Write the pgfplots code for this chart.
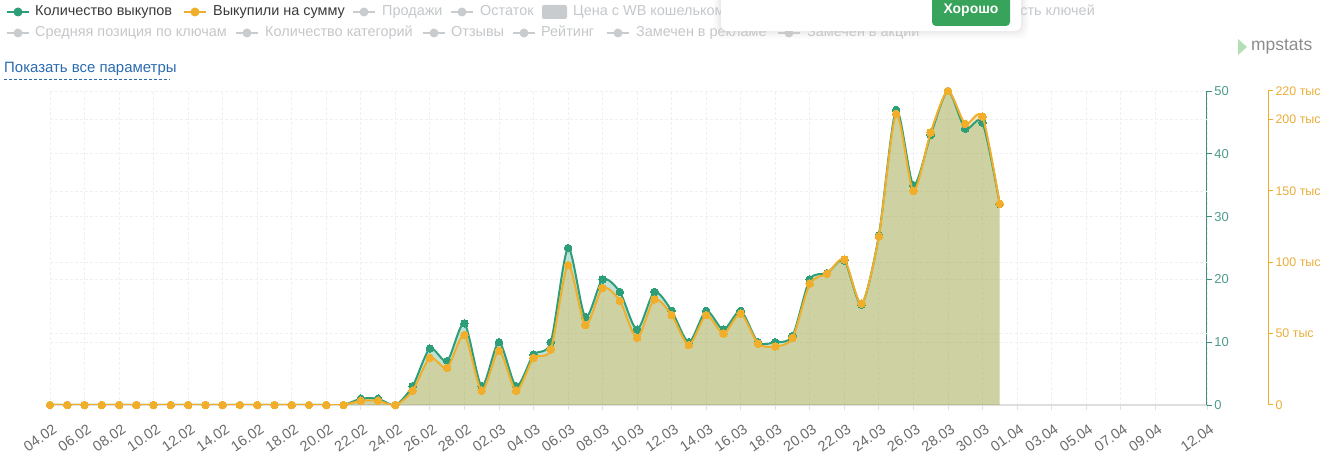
\documentclass[border=0pt]{standalone}
\usepackage{fontspec}
\setmainfont{Liberation Sans}
\usepackage{pgfplots}
\pgfplotsset{compat=1.18}
\usepackage{pgfplotstable}
\definecolor{tealc}{HTML}{2E9E78}
\definecolor{orangec}{HTML}{F0AE2A}
\definecolor{taxis}{HTML}{3F8F80}
\definecolor{tlab}{HTML}{4E9A8C}
\definecolor{olab}{HTML}{E9AE3A}
\definecolor{legg}{HTML}{C9CCCF}
\definecolor{legt}{HTML}{C4C7CA}
\definecolor{linkb}{HTML}{2A6BB0}
\definecolor{btng}{HTML}{37A35B}
\definecolor{darkt}{HTML}{3A3A3A}
\definecolor{xlab}{HTML}{6A6A6A}

\pgfplotstableread{
d v
0 0
1 0
2 0
3 0
4 0
5 0
6 0
7 0
8 0
9 0
10 0
11 0
12 0
13 0
14 0
15 0
16 0
17 0
18 1
19 1
20 0
21 3
22 9
23 7
24 13
25 3
26 10
27 3
28 8
29 10
30 25
31 14
32 20
33 18
34 12
35 18
36 15
37 10
38 15
39 12
40 15
41 10
42 10
43 11
44 20
45 21
46 23
47 16
48 27
49 47
50 35
51 43
52 50
53 44
54 45
55 32
}\cnt

\pgfplotstableread{
d k
0 0
1 0
2 0
3 0
4 0
5 0
6 0
7 0
8 0
9 0
10 0
11 0
12 0
13 0
14 0
15 0
16 0
17 0
18 3
19 3
20 0
21 10
22 33
23 26
24 49
25 10
26 38
27 10
28 33
29 39
30 98
31 56
32 82
33 73
34 47
35 74
36 63
37 42
38 63
39 50
40 64
41 43
42 41
43 47
44 85
45 92
46 102
47 71
48 118
49 204
50 150
51 191
52 220
53 197
54 202
55 141
}\sumt

\newcommand{\lfont}{\fontsize{14.5}{16}\selectfont}
% marker x, y, colour
\newcommand{\lmark}[3]{%
  \draw[#3, line width=2bp] (#1,#2) -- ++(22,0);
  \fill[#3] (#1+11,#2) circle (4.5);%
}

\begin{document}
\begin{tikzpicture}
\useasboundingbox (0,0) rectangle (1327bp,470bp);
\begin{axis}[
  at={(50bp,65bp)}, anchor=south west,
  scale only axis, width=1157bp, height=314bp,
  xmin=0, xmax=67, ymin=0, ymax=50,
  axis y line*=right, axis x line*=bottom,
  clip mode=individual,
  /pgf/number format/assume math mode=true,
  xtick={0,2,...,64,67},
  xticklabels={04.02,06.02,08.02,10.02,12.02,14.02,16.02,18.02,20.02,22.02,24.02,26.02,28.02,02.03,04.03,06.03,08.03,10.03,12.03,14.03,16.03,18.03,20.03,22.03,24.03,26.03,28.03,30.03,01.04,03.04,05.04,07.04,09.04,12.04},
  xticklabel style={rotate=35, anchor=north east, text=xlab, font=\fontsize{14.5}{16}\selectfont, inner sep=0bp, xshift=-5.8bp, yshift=-11.8bp},
  ytick={0,10,...,50},
  yticklabel style={text=tlab, font=\fontsize{13}{15}\selectfont, xshift=-1bp},
  extra y ticks={11.3636,22.7273,34.0909,45.4545},
  extra y tick labels={},
  extra y tick style={major tick length=0pt, grid=major},
  grid=major,
  major grid style={color=black!6, dash pattern=on 3bp off 2bp, line width=0.8bp},
  x axis line style={color=black!13, line width=1.6bp, -},
  y axis line style={color=taxis, line width=1bp, -},
  x tick style={color=black!12, line width=0.8bp},
  y tick style={color=taxis, line width=1bp},
  major tick length=5bp,
  tick align=outside,
]
\addplot[draw=none, fill=tealc, fill opacity=0.3, smooth, tension=0.45] table[x=d,y=v]{\cnt} \closedcycle;
\addplot[draw=none, fill=orangec, fill opacity=0.3, smooth, tension=0.45] table[x=d,y expr=\thisrow{k}/4.4]{\sumt} \closedcycle;
\addplot[tealc, line width=2bp, smooth, tension=0.45, mark=*, mark size=3.8bp, mark options={fill=tealc, draw=tealc, line width=0pt}] table[x=d,y=v]{\cnt};
\addplot[orangec, line width=2bp, smooth, tension=0.45, mark=*, mark size=3.8bp, mark options={fill=orangec, draw=orangec, line width=0pt}] table[x=d,y expr=\thisrow{k}/4.4]{\sumt};
\end{axis}

\begin{axis}[
  at={(50bp,65bp)}, anchor=south west,
  scale only axis, width=1218bp, height=314bp,
  xmin=0, xmax=70.53, ymin=0, ymax=220,
  hide x axis,
  axis y line*=right,
  /pgf/number format/assume math mode=true,
  ytick={0,50,100,150,200,220},
  yticklabels={0,50 тыс,100 тыс,150 тыс,200 тыс,220 тыс},
  yticklabel style={text=olab, font=\fontsize{12.5}{15}\selectfont, xshift=-1bp},
  y axis line style={color=orangec, line width=1bp, -},
  y tick style={color=orangec, line width=1bp},
  major tick length=5bp,
  tick align=outside,
]
\addplot[draw=none] coordinates {(0,0)};
\end{axis}

\begin{scope}[x=1bp, y=-1bp, shift={(0,470bp)}]
  % legend row 1
  \lmark{7}{12}{tealc}
  \node[anchor=west, inner sep=0pt, text=darkt, font=\lfont] at (35,12) {\strut Количество выкупов};
  \lmark{184}{12}{orangec}
  \node[anchor=west, inner sep=0pt, text=darkt, font=\lfont] at (213,12) {\strut Выкупили на сумму};
  \lmark{353}{12}{legg}
  \node[anchor=west, inner sep=0pt, text=legt, font=\lfont] at (382,12) {\strut Продажи};
  \lmark{451}{12}{legg}
  \node[anchor=west, inner sep=0pt, text=legt, font=\lfont] at (480,12) {\strut Остаток};
  \fill[legg, rounded corners=2] (542,5) rectangle (567,19);
  \node[anchor=west, inner sep=0pt, text=legt, font=\lfont] at (573,12) {\strut Цена с WB кошельком};
  \node[anchor=west, inner sep=0pt, text=legt, font=\lfont] at (968,12) {\strut Видимость ключей};
  % legend row 2
  \lmark{7}{33}{legg}
  \node[anchor=west, inner sep=0pt, text=legt, font=\lfont] at (35,33) {\strut Средняя позиция по ключам};
  \lmark{236}{33}{legg}
  \node[anchor=west, inner sep=0pt, text=legt, font=\lfont] at (265,33) {\strut Количество категорий};
  \lmark{423}{33}{legg}
  \node[anchor=west, inner sep=0pt, text=legt, font=\lfont] at (451,33) {\strut Отзывы};
  \lmark{513}{33}{legg}
  \node[anchor=west, inner sep=0pt, text=legt, font=\lfont] at (541,33) {\strut Рейтинг};
  \lmark{607}{33}{legg}
  \node[anchor=west, inner sep=0pt, text=legt, font=\lfont] at (636,33) {\strut Замечен в рекламе};
  \lmark{778}{33}{legg}
  \node[anchor=west, inner sep=0pt, text=legt, font=\lfont] at (807,33) {\strut Замечен в акции};
  % popup with soft shadow
  \foreach \s/\o in {8/0.06,6/0.08,4/0.10,2/0.12}{
    \fill[white, opacity=\o, rounded corners=8] (721-\s,-10) rectangle (1021+\s,31+\s);
  }
  \foreach \s/\o in {8/0.012,6/0.015,4/0.02,2/0.025}{
    \fill[black, opacity=\o, rounded corners=8] (721-\s,-10) rectangle (1021+\s,31+\s);
  }
  \fill[white, rounded corners=6] (721,-10) rectangle (1021,31);
  \fill[btng, rounded corners=4] (932,-8) rectangle (1010,26);
  \node[text=white, font=\bfseries\fontsize{14}{16}\selectfont, inner sep=0pt] at (971,10) {\strut Хорошо};
  % link
  \node[anchor=west, inner sep=0pt, text=linkb, font=\fontsize{15}{17}\selectfont] at (4,69) {\strut Показать все параметры};
  \draw[linkb, line width=0.9bp, dash pattern=on 3bp off 2bp] (4,79) -- (170,79);
  % mpstats logo
  \fill[green!60!black, opacity=0.3] (1238,39) -- (1247,47) -- (1238,55) -- cycle;
  \node[anchor=west, inner sep=0pt, text=black!45, font=\fontsize{17.5}{19}\selectfont] at (1251,47) {\strut mpstats};
\end{scope}
\end{tikzpicture}
\end{document}
